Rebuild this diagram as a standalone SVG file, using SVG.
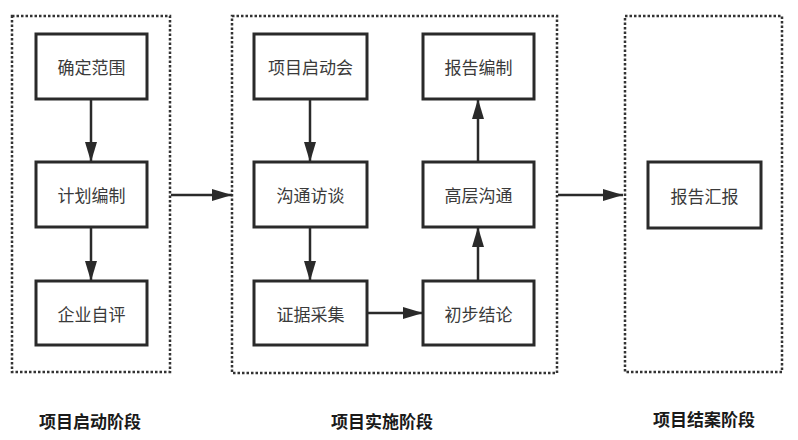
<svg xmlns="http://www.w3.org/2000/svg" width="798" height="440" viewBox="0 0 798 440">
<defs>
<style>
.stage{fill:none;stroke:#333;stroke-width:2.5;stroke-dasharray:2.5 2}
.box{fill:#fff;stroke:#2a2a2a;stroke-width:3}
.t{font-family:"Noto Sans CJK SC","Noto Sans",sans-serif;font-size:17px;fill:#3a3a3a;text-anchor:middle;dominant-baseline:central}
.lbl{font-family:"Noto Sans CJK SC","Noto Sans",sans-serif;font-size:17px;font-weight:bold;fill:#1a1a1a;text-anchor:middle;dominant-baseline:central}
.c{stroke:#2a2a2a;stroke-width:2.5;fill:none;marker-end:url(#ah)}
</style>
<marker id="ah" viewBox="0 0 20 12" refX="20" refY="6" markerWidth="20" markerHeight="12" markerUnits="userSpaceOnUse" orient="auto">
<path d="M0,0 L20,6 L0,12 Z" fill="#2a2a2a"/>
</marker>
</defs>
<rect width="798" height="440" fill="#fff"/>
<g id="stage1"><rect class="stage" x="12" y="16" width="158" height="356"/><text class="lbl" x="90" y="420">项目启动阶段</text></g>
<g id="stage2"><rect class="stage" x="232" y="16" width="325" height="357"/><text class="lbl" x="382" y="420">项目实施阶段</text></g>
<g id="stage3"><rect class="stage" x="625" y="16" width="157" height="356"/><text class="lbl" x="704" y="418">项目结案阶段</text></g>
<g id="connectors">
<line class="c" x1="91" y1="99" x2="91" y2="162"/>
<line class="c" x1="91" y1="227" x2="91" y2="281"/>
<line class="c" x1="171" y1="195" x2="232" y2="195"/>
<line class="c" x1="310" y1="99" x2="310" y2="162"/>
<line class="c" x1="310" y1="227" x2="310" y2="281"/>
<line class="c" x1="367" y1="313" x2="423" y2="313"/>
<line class="c" x1="478" y1="281" x2="478" y2="227"/>
<line class="c" x1="478" y1="162" x2="478" y2="99"/>
<line class="c" x1="558" y1="195" x2="623" y2="195"/>
</g>
<g id="n1"><rect class="box" x="36" y="34" width="111" height="65"/><text class="t" x="91.5" y="66.5">确定范围</text></g>
<g id="n2"><rect class="box" x="36" y="162" width="111" height="65"/><text class="t" x="91.5" y="194.5">计划编制</text></g>
<g id="n3"><rect class="box" x="36" y="281" width="111" height="64"/><text class="t" x="91.5" y="313">企业自评</text></g>
<g id="n4"><rect class="box" x="254" y="34" width="113" height="65"/><text class="t" x="310.5" y="66.5">项目启动会</text></g>
<g id="n5"><rect class="box" x="254" y="162" width="113" height="65"/><text class="t" x="310.5" y="194.5">沟通访谈</text></g>
<g id="n6"><rect class="box" x="254" y="281" width="113" height="64"/><text class="t" x="310.5" y="313">证据采集</text></g>
<g id="n7"><rect class="box" x="423" y="34" width="111" height="65"/><text class="t" x="478.5" y="66.5">报告编制</text></g>
<g id="n8"><rect class="box" x="423" y="162" width="111" height="65"/><text class="t" x="478.5" y="194.5">高层沟通</text></g>
<g id="n9"><rect class="box" x="423" y="281" width="111" height="64"/><text class="t" x="478.5" y="313">初步结论</text></g>
<g id="n10"><rect class="box" x="648" y="162" width="113" height="66"/><text class="t" x="704.5" y="195">报告汇报</text></g>
</svg>
